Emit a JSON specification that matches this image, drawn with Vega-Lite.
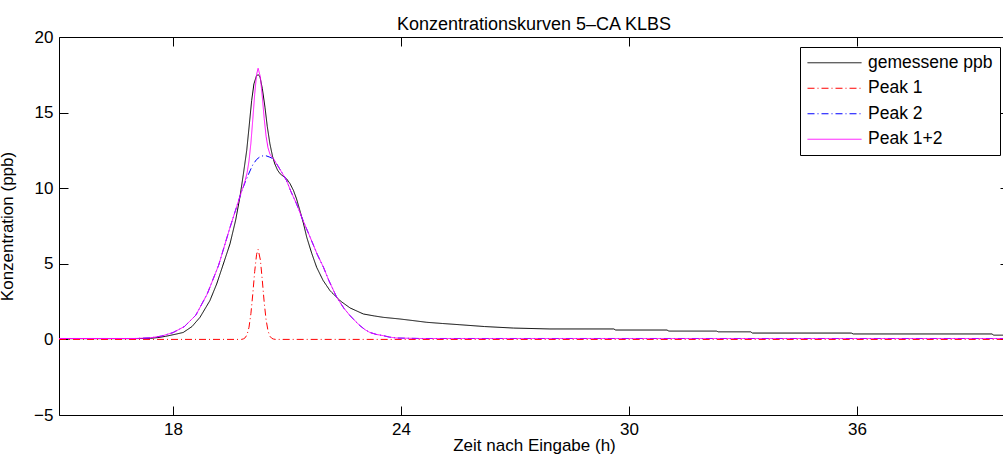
{
  "$schema": "https://vega.github.io/schema/vega-lite/v6.json",
  "width": 950,
  "height": 378,
  "autosize": {"type": "none"},
  "padding": {"left": 59, "top": 37, "right": -6, "bottom": 48},
  "background": "white",
  "config": {
    "font": "Liberation Sans",
    "view": {"stroke": null},
    "axis": {"domainColor": "black", "tickColor": "black", "labelColor": "black", "titleColor": "black", "domainWidth": 1, "tickWidth": 1, "grid": false, "labelFontSize": 17, "titleFontSize": 17, "titleFontWeight": "normal", "labelFont": "Liberation Sans", "titleFont": "Liberation Sans"}
  },
  "title": {"text": "Konzentrationskurven 5–CA KLBS", "fontSize": 18, "fontWeight": "normal", "font": "Liberation Sans", "color": "black", "anchor": "middle", "frame": "group", "baseline": "alphabetic", "offset": 10, "dy": 30},
  "data": {"values": [
    {"series": "gemessene ppb", "t": 15, "c": 0.05},
    {"series": "gemessene ppb", "t": 17.0, "c": 0.05},
    {"series": "gemessene ppb", "t": 17.4, "c": 0.07},
    {"series": "gemessene ppb", "t": 17.6, "c": 0.12},
    {"series": "gemessene ppb", "t": 17.8, "c": 0.2},
    {"series": "gemessene ppb", "t": 18.1, "c": 0.36},
    {"series": "gemessene ppb", "t": 18.27, "c": 0.46},
    {"series": "gemessene ppb", "t": 18.5, "c": 0.85},
    {"series": "gemessene ppb", "t": 18.71, "c": 1.46},
    {"series": "gemessene ppb", "t": 18.97, "c": 2.56},
    {"series": "gemessene ppb", "t": 19.15, "c": 3.67},
    {"series": "gemessene ppb", "t": 19.3, "c": 4.8},
    {"series": "gemessene ppb", "t": 19.5, "c": 6.32},
    {"series": "gemessene ppb", "t": 19.65, "c": 7.9},
    {"series": "gemessene ppb", "t": 19.76, "c": 9.4},
    {"series": "gemessene ppb", "t": 19.85, "c": 10.9},
    {"series": "gemessene ppb", "t": 19.94, "c": 12.5},
    {"series": "gemessene ppb", "t": 20.0, "c": 14.0},
    {"series": "gemessene ppb", "t": 20.07, "c": 15.8},
    {"series": "gemessene ppb", "t": 20.13, "c": 16.9},
    {"series": "gemessene ppb", "t": 20.2, "c": 17.46},
    {"series": "gemessene ppb", "t": 20.25, "c": 17.5},
    {"series": "gemessene ppb", "t": 20.29, "c": 17.35},
    {"series": "gemessene ppb", "t": 20.35, "c": 16.6},
    {"series": "gemessene ppb", "t": 20.42, "c": 15.36},
    {"series": "gemessene ppb", "t": 20.48, "c": 14.1},
    {"series": "gemessene ppb", "t": 20.55, "c": 12.94},
    {"series": "gemessene ppb", "t": 20.62, "c": 12.1},
    {"series": "gemessene ppb", "t": 20.68, "c": 11.6},
    {"series": "gemessene ppb", "t": 20.75, "c": 11.2},
    {"series": "gemessene ppb", "t": 20.82, "c": 10.95},
    {"series": "gemessene ppb", "t": 20.99, "c": 10.62},
    {"series": "gemessene ppb", "t": 21.08, "c": 10.3},
    {"series": "gemessene ppb", "t": 21.17, "c": 9.85},
    {"series": "gemessene ppb", "t": 21.25, "c": 9.3},
    {"series": "gemessene ppb", "t": 21.34, "c": 8.52},
    {"series": "gemessene ppb", "t": 21.43, "c": 7.7},
    {"series": "gemessene ppb", "t": 21.52, "c": 6.75},
    {"series": "gemessene ppb", "t": 21.65, "c": 5.7},
    {"series": "gemessene ppb", "t": 21.78, "c": 4.77},
    {"series": "gemessene ppb", "t": 21.95, "c": 3.9},
    {"series": "gemessene ppb", "t": 22.13, "c": 3.23},
    {"series": "gemessene ppb", "t": 22.4, "c": 2.55},
    {"series": "gemessene ppb", "t": 22.66, "c": 2.08},
    {"series": "gemessene ppb", "t": 23.01, "c": 1.68},
    {"series": "gemessene ppb", "t": 23.3, "c": 1.55},
    {"series": "gemessene ppb", "t": 23.53, "c": 1.46},
    {"series": "gemessene ppb", "t": 23.97, "c": 1.35},
    {"series": "gemessene ppb", "t": 24.3, "c": 1.25},
    {"series": "gemessene ppb", "t": 24.68, "c": 1.13},
    {"series": "gemessene ppb", "t": 25.1, "c": 1.05},
    {"series": "gemessene ppb", "t": 25.55, "c": 0.97},
    {"series": "gemessene ppb", "t": 26.2, "c": 0.85},
    {"series": "gemessene ppb", "t": 26.96, "c": 0.75},
    {"series": "gemessene ppb", "t": 27.92, "c": 0.69},
    {"series": "gemessene ppb", "t": 29.6, "c": 0.69},
    {"series": "gemessene ppb", "t": 29.65, "c": 0.62},
    {"series": "gemessene ppb", "t": 31.0, "c": 0.62},
    {"series": "gemessene ppb", "t": 31.05, "c": 0.55},
    {"series": "gemessene ppb", "t": 32.3, "c": 0.55},
    {"series": "gemessene ppb", "t": 32.35, "c": 0.5},
    {"series": "gemessene ppb", "t": 33.2, "c": 0.5},
    {"series": "gemessene ppb", "t": 33.25, "c": 0.42},
    {"series": "gemessene ppb", "t": 35.85, "c": 0.42},
    {"series": "gemessene ppb", "t": 35.9, "c": 0.36},
    {"series": "gemessene ppb", "t": 39.55, "c": 0.36},
    {"series": "gemessene ppb", "t": 39.6, "c": 0.28},
    {"series": "gemessene ppb", "t": 40, "c": 0.28},

    {"series": "Peak 1", "t": 15, "c": 0},
    {"series": "Peak 1", "t": 19.8, "c": 0},
    {"series": "Peak 1", "t": 19.85, "c": 0.03},
    {"series": "Peak 1", "t": 19.9, "c": 0.11},
    {"series": "Peak 1", "t": 19.95, "c": 0.32},
    {"series": "Peak 1", "t": 20.0, "c": 0.8},
    {"series": "Peak 1", "t": 20.05, "c": 1.7},
    {"series": "Peak 1", "t": 20.1, "c": 3.01},
    {"series": "Peak 1", "t": 20.15, "c": 4.49},
    {"series": "Peak 1", "t": 20.2, "c": 5.63},
    {"series": "Peak 1", "t": 20.24, "c": 5.95},
    {"series": "Peak 1", "t": 20.3, "c": 5.25},
    {"series": "Peak 1", "t": 20.35, "c": 3.91},
    {"series": "Peak 1", "t": 20.4, "c": 2.45},
    {"series": "Peak 1", "t": 20.45, "c": 1.29},
    {"series": "Peak 1", "t": 20.5, "c": 0.57},
    {"series": "Peak 1", "t": 20.55, "c": 0.21},
    {"series": "Peak 1", "t": 20.6, "c": 0.07},
    {"series": "Peak 1", "t": 20.65, "c": 0.02},
    {"series": "Peak 1", "t": 20.7, "c": 0},
    {"series": "Peak 1", "t": 40, "c": 0},

    {"series": "Peak 2", "t": 15, "c": 0.06},
    {"series": "Peak 2", "t": 17.0, "c": 0.06},
    {"series": "Peak 2", "t": 17.4, "c": 0.1},
    {"series": "Peak 2", "t": 17.7, "c": 0.22},
    {"series": "Peak 2", "t": 18.0, "c": 0.45},
    {"series": "Peak 2", "t": 18.3, "c": 0.85},
    {"series": "Peak 2", "t": 18.6, "c": 1.6},
    {"series": "Peak 2", "t": 18.9, "c": 3.0},
    {"series": "Peak 2", "t": 19.2, "c": 4.9},
    {"series": "Peak 2", "t": 19.5, "c": 7.4},
    {"series": "Peak 2", "t": 19.8, "c": 9.75},
    {"series": "Peak 2", "t": 19.9, "c": 10.4},
    {"series": "Peak 2", "t": 20.0, "c": 11.0},
    {"series": "Peak 2", "t": 20.1, "c": 11.55},
    {"series": "Peak 2", "t": 20.2, "c": 11.9},
    {"series": "Peak 2", "t": 20.3, "c": 12.1},
    {"series": "Peak 2", "t": 20.42, "c": 12.17},
    {"series": "Peak 2", "t": 20.55, "c": 12.05},
    {"series": "Peak 2", "t": 20.64, "c": 11.94},
    {"series": "Peak 2", "t": 20.73, "c": 11.6},
    {"series": "Peak 2", "t": 20.85, "c": 11.1},
    {"series": "Peak 2", "t": 20.99, "c": 10.5},
    {"series": "Peak 2", "t": 21.1, "c": 9.8},
    {"series": "Peak 2", "t": 21.25, "c": 8.97},
    {"series": "Peak 2", "t": 21.4, "c": 8.0},
    {"series": "Peak 2", "t": 21.61, "c": 6.75},
    {"series": "Peak 2", "t": 21.8, "c": 5.6},
    {"series": "Peak 2", "t": 21.96, "c": 4.77},
    {"series": "Peak 2", "t": 22.1, "c": 3.9},
    {"series": "Peak 2", "t": 22.31, "c": 2.78},
    {"series": "Peak 2", "t": 22.5, "c": 2.05},
    {"series": "Peak 2", "t": 22.66, "c": 1.57},
    {"series": "Peak 2", "t": 22.8, "c": 1.2},
    {"series": "Peak 2", "t": 22.92, "c": 0.91},
    {"series": "Peak 2", "t": 23.05, "c": 0.65},
    {"series": "Peak 2", "t": 23.18, "c": 0.46},
    {"series": "Peak 2", "t": 23.35, "c": 0.33},
    {"series": "Peak 2", "t": 23.53, "c": 0.25},
    {"series": "Peak 2", "t": 23.7, "c": 0.15},
    {"series": "Peak 2", "t": 23.89, "c": 0.09},
    {"series": "Peak 2", "t": 24.5, "c": 0.06},
    {"series": "Peak 2", "t": 40, "c": 0.06},

    {"series": "Peak 1+2", "t": 15, "c": 0.06},
    {"series": "Peak 1+2", "t": 17.0, "c": 0.06},
    {"series": "Peak 1+2", "t": 17.4, "c": 0.1},
    {"series": "Peak 1+2", "t": 17.7, "c": 0.22},
    {"series": "Peak 1+2", "t": 18.0, "c": 0.45},
    {"series": "Peak 1+2", "t": 18.3, "c": 0.85},
    {"series": "Peak 1+2", "t": 18.6, "c": 1.6},
    {"series": "Peak 1+2", "t": 18.9, "c": 3.0},
    {"series": "Peak 1+2", "t": 19.2, "c": 4.9},
    {"series": "Peak 1+2", "t": 19.5, "c": 7.4},
    {"series": "Peak 1+2", "t": 19.8, "c": 9.75},
    {"series": "Peak 1+2", "t": 19.85, "c": 10.1},
    {"series": "Peak 1+2", "t": 19.9, "c": 10.51},
    {"series": "Peak 1+2", "t": 19.95, "c": 11.02},
    {"series": "Peak 1+2", "t": 20.0, "c": 11.8},
    {"series": "Peak 1+2", "t": 20.05, "c": 12.98},
    {"series": "Peak 1+2", "t": 20.1, "c": 14.56},
    {"series": "Peak 1+2", "t": 20.15, "c": 16.22},
    {"series": "Peak 1+2", "t": 20.2, "c": 17.53},
    {"series": "Peak 1+2", "t": 20.24, "c": 17.93},
    {"series": "Peak 1+2", "t": 20.3, "c": 17.35},
    {"series": "Peak 1+2", "t": 20.35, "c": 16.04},
    {"series": "Peak 1+2", "t": 20.4, "c": 14.61},
    {"series": "Peak 1+2", "t": 20.45, "c": 13.43},
    {"series": "Peak 1+2", "t": 20.5, "c": 12.67},
    {"series": "Peak 1+2", "t": 20.55, "c": 12.26},
    {"series": "Peak 1+2", "t": 20.6, "c": 12.06},
    {"series": "Peak 1+2", "t": 20.65, "c": 11.94},
    {"series": "Peak 1+2", "t": 20.7, "c": 11.71},
    {"series": "Peak 1+2", "t": 20.73, "c": 11.6},
    {"series": "Peak 1+2", "t": 20.85, "c": 11.1},
    {"series": "Peak 1+2", "t": 20.99, "c": 10.5},
    {"series": "Peak 1+2", "t": 21.1, "c": 9.8},
    {"series": "Peak 1+2", "t": 21.25, "c": 8.97},
    {"series": "Peak 1+2", "t": 21.4, "c": 8.0},
    {"series": "Peak 1+2", "t": 21.61, "c": 6.75},
    {"series": "Peak 1+2", "t": 21.8, "c": 5.6},
    {"series": "Peak 1+2", "t": 21.96, "c": 4.77},
    {"series": "Peak 1+2", "t": 22.1, "c": 3.9},
    {"series": "Peak 1+2", "t": 22.31, "c": 2.78},
    {"series": "Peak 1+2", "t": 22.5, "c": 2.05},
    {"series": "Peak 1+2", "t": 22.66, "c": 1.57},
    {"series": "Peak 1+2", "t": 22.8, "c": 1.2},
    {"series": "Peak 1+2", "t": 22.92, "c": 0.91},
    {"series": "Peak 1+2", "t": 23.05, "c": 0.65},
    {"series": "Peak 1+2", "t": 23.18, "c": 0.46},
    {"series": "Peak 1+2", "t": 23.35, "c": 0.33},
    {"series": "Peak 1+2", "t": 23.53, "c": 0.25},
    {"series": "Peak 1+2", "t": 23.7, "c": 0.15},
    {"series": "Peak 1+2", "t": 23.89, "c": 0.09},
    {"series": "Peak 1+2", "t": 24.5, "c": 0.06},
    {"series": "Peak 1+2", "t": 40, "c": 0.06}
  ]},
  "layer": [
    {
      "mark": {"type": "line", "strokeWidth": 1, "clip": true},
      "encoding": {
        "x": {"field": "t", "type": "quantitative", "scale": {"domain": [15, 40], "nice": false, "zero": false},
          "axis": {"orient": "bottom", "values": [18, 24, 30, 36], "tickSize": -9, "labelPadding": 15, "labelFlush": false, "title": "Zeit nach Eingabe (h)", "titleBaseline": "alphabetic", "titleY": 35}},
        "y": {"field": "c", "type": "quantitative", "scale": {"domain": [-5, 20], "nice": false, "zero": false},
          "axis": {"orient": "left", "values": [-5, 0, 5, 10, 15, 20], "tickSize": -9, "labelPadding": 15, "title": "Konzentration (ppb)", "titleAngle": -90, "titleX": -47, "titleY": 189, "titleBaseline": "alphabetic", "titleAlign": "center"}},
        "color": {"field": "series", "type": "nominal",
          "scale": {"domain": ["gemessene ppb", "Peak 1", "Peak 2", "Peak 1+2"], "range": ["#000000", "#ff0000", "#0000ff", "#ff00ff"]},
          "legend": {"title": null, "orient": "none", "legendX": 741, "legendY": 10, "fillColor": "white", "strokeColor": "black", "padding": 7, "cornerRadius": 0, "labelFontSize": 17.5, "labelFont": "Liberation Sans", "labelColor": "black", "symbolType": "stroke", "symbolSize": 2916, "symbolStrokeWidth": 1, "clipHeight": 17.5, "rowPadding": 6.5, "labelOffset": 6}},
        "strokeDash": {"field": "series", "type": "nominal",
          "scale": {"domain": ["gemessene ppb", "Peak 1", "Peak 2", "Peak 1+2"], "range": [[1, 0], [7, 3, 1, 3], [7, 3, 1, 3], [1, 0]]},
          "legend": {"title": null, "orient": "none", "legendX": 741, "legendY": 10, "fillColor": "white", "strokeColor": "black", "padding": 7, "cornerRadius": 0, "labelFontSize": 17.5, "labelFont": "Liberation Sans", "labelColor": "black", "symbolType": "stroke", "symbolSize": 2916, "symbolStrokeWidth": 1, "clipHeight": 17.5, "rowPadding": 6.5, "labelOffset": 6}}
      }
    },
    {
      "mark": {"type": "point", "opacity": 0, "size": 0},
      "encoding": {
        "x": {"field": "t", "type": "quantitative", "scale": {"domain": [15, 40], "nice": false, "zero": false},
          "axis": {"orient": "top", "values": [18, 24, 30, 36], "tickSize": -9, "labels": false, "title": null}},
        "y": {"field": "c", "type": "quantitative", "scale": {"domain": [-5, 20], "nice": false, "zero": false},
          "axis": {"orient": "right", "values": [-5, 0, 5, 10, 15, 20], "tickSize": -9, "labels": false, "title": null}}
      }
    }
  ]
}
